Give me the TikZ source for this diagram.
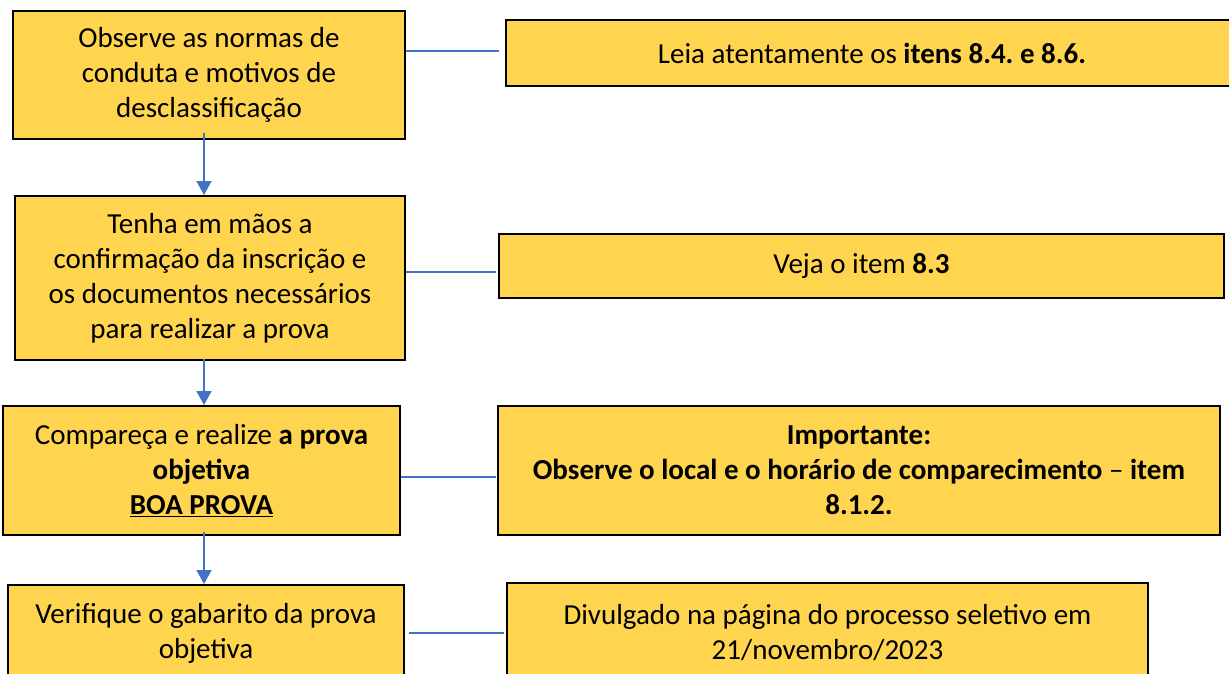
\documentclass[tikz,border=0pt]{standalone}
\usepackage{fontspec}
\setmainfont{Carlito}
\usetikzlibrary{arrows.meta}
\definecolor{boxfill}{RGB}{255,213,80}
\definecolor{linkblue}{RGB}{68,114,196}
\frenchspacing
\begin{document}
\begin{tikzpicture}[x=1pt,y=-1pt,
  box/.style={draw=black,line width=2pt,fill=boxfill,rectangle,inner sep=0pt,
    align=center,font=\fontsize{29}{35}\selectfont},
  link/.style={draw=linkblue,line width=1.8pt},
  flow/.style={draw=linkblue,line width=1.8pt,-{Triangle[width=15pt,length=14pt]}}]
\useasboundingbox (0,0) rectangle (1229,673);
\clip (0,0) rectangle (1229,673);
% left column
\node[box,minimum width=392pt,minimum height=128pt] (b1) at (209,75)
  {Observe as normas de\\conduta e motivos de\\desclassificação};
\node[box,minimum width=390pt,minimum height=164pt] (b2) at (210,278)
  {Tenha em mãos a\\confirmação da inscrição e\\os documentos necessários\\para realizar a prova};
\node[box,minimum width=397pt,minimum height=129pt] (b3) at (201.5,470.5)
  {Compareça e realize \textbf{a prova}\\\textbf{objetiva}\\\underline{\textbf{BOA PROVA}}};
\node[box,minimum width=396pt,minimum height=96pt] (b4) at (206,633)
  {Verifique o gabarito da prova\\objetiva};
% right column
\node[box,minimum width=732pt,minimum height=66pt] (r1) at (872,53)
  {Leia atentamente os \textbf{itens 8.4. e 8.6.}};
\node[box,minimum width=725pt,minimum height=64pt] (r2) at (861.5,266)
  {Veja o item \textbf{8.3}};
\node[box,minimum width=722pt,minimum height=129pt] (r3) at (859,470.5)
  {\textbf{Importante:}\\\textbf{Observe o local e o horário de comparecimento} – \textbf{item}\\\textbf{8.1.2.}};
\node[box,minimum width=641pt,minimum height=100pt] (r4) at (827.5,633)
  {Divulgado na página do processo seletivo em\\21/novembro/2023};
% side links
\draw[link] (b1.east |- 0,51) -- ([xshift=-6pt]r1.west |- 0,51);
\draw[link] (b2.east |- 0,272) -- ([xshift=-2pt]r2.west |- 0,272);
\draw[link] (b3.east |- 0,477) -- ([xshift=-1pt]r3.west |- 0,477);
\draw[link] ([xshift=4pt]b4.east |- 0,633) -- ([xshift=-2pt]r4.west |- 0,633);
% flow arrows
\draw[flow] ([yshift=7pt]b1.south -| 204,0) -- (b2.north -| 204,0);
\draw[flow] ([yshift=2pt]b2.south -| 204,0) -- (b3.north -| 204,0);
\draw[flow] ([yshift=4pt]b3.south -| 204,0) -- (b4.north -| 204,0);
\end{tikzpicture}
\end{document}
